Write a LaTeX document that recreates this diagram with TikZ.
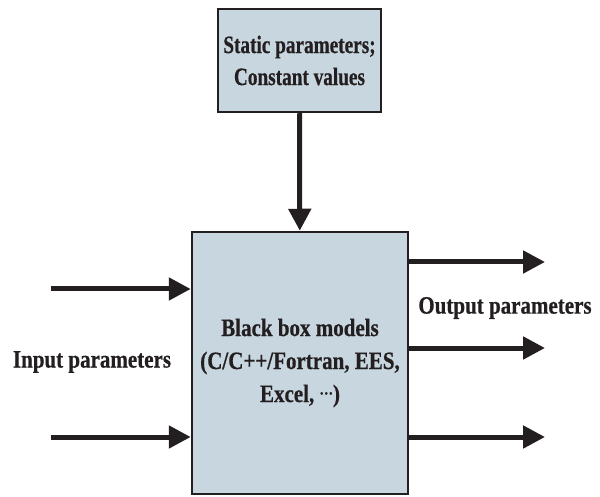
\documentclass[tikz,border=0pt]{standalone}
\usepackage{fontspec}
\setmainfont{Liberation Serif}[FakeStretch=0.84, BoldFeatures={FakeBold=0.6}]
\newfontfamily\narrowfont{Liberation Serif}[FakeStretch=0.77, BoldFeatures={FakeBold=0.6}]
\usetikzlibrary{arrows.meta, positioning}

\definecolor{boxfill}{RGB}{200,214,224}
\definecolor{ink}{RGB}{35,31,32}
\newcommand{\midots}{\raisebox{0.3em}{\fontsize{16}{16}\selectfont …}}

\begin{document}
\begin{tikzpicture}[x=1pt, y=1pt, >={Triangle[length=22pt,width=22pt]},
  every node/.style={font=\fontsize{25}{33}\selectfont\bfseries, text=ink},
  blk/.style={draw=ink, line width=2.5pt, fill=boxfill, align=center, inner sep=0pt},
  flow/.style={->, draw=ink, fill=ink, line width=5pt}]
\useasboundingbox (0,0) rectangle (600,496);

\node[blk, minimum width=216pt, minimum height=262pt] (model) at (300,133)
  {Black box models\\{}(C/C++/Fortran, EES,\\{}Excel, \midots)};
\node[blk, minimum width=163pt, minimum height=103pt,
  font=\fontsize{25}{32}\narrowfont\bfseries] (static) at (299.5,435.5)
  {Static parameters;\\Constant values};

\draw[flow] (static) -- (model);

% inputs on the left
\coordinate (in1) at (51,207);
\coordinate (in2) at (51,59);
\draw[flow] (in1) -- (in1 -| model.west);
\draw[flow] (in2) -- (in2 -| model.west);
\node (inlbl) at (92,134) {Input parameters};

% outputs on the right
\coordinate (out1) at (545,234);
\coordinate (out2) at (545,148);
\coordinate (out3) at (545,59);
\draw[flow] (out1 -| model.east) -- (out1);
\draw[flow] (out2 -| model.east) -- (out2);
\draw[flow] (out3 -| model.east) -- (out3);
\node (outlbl) at (505,188) {Output parameters};
\end{tikzpicture}
\end{document}
